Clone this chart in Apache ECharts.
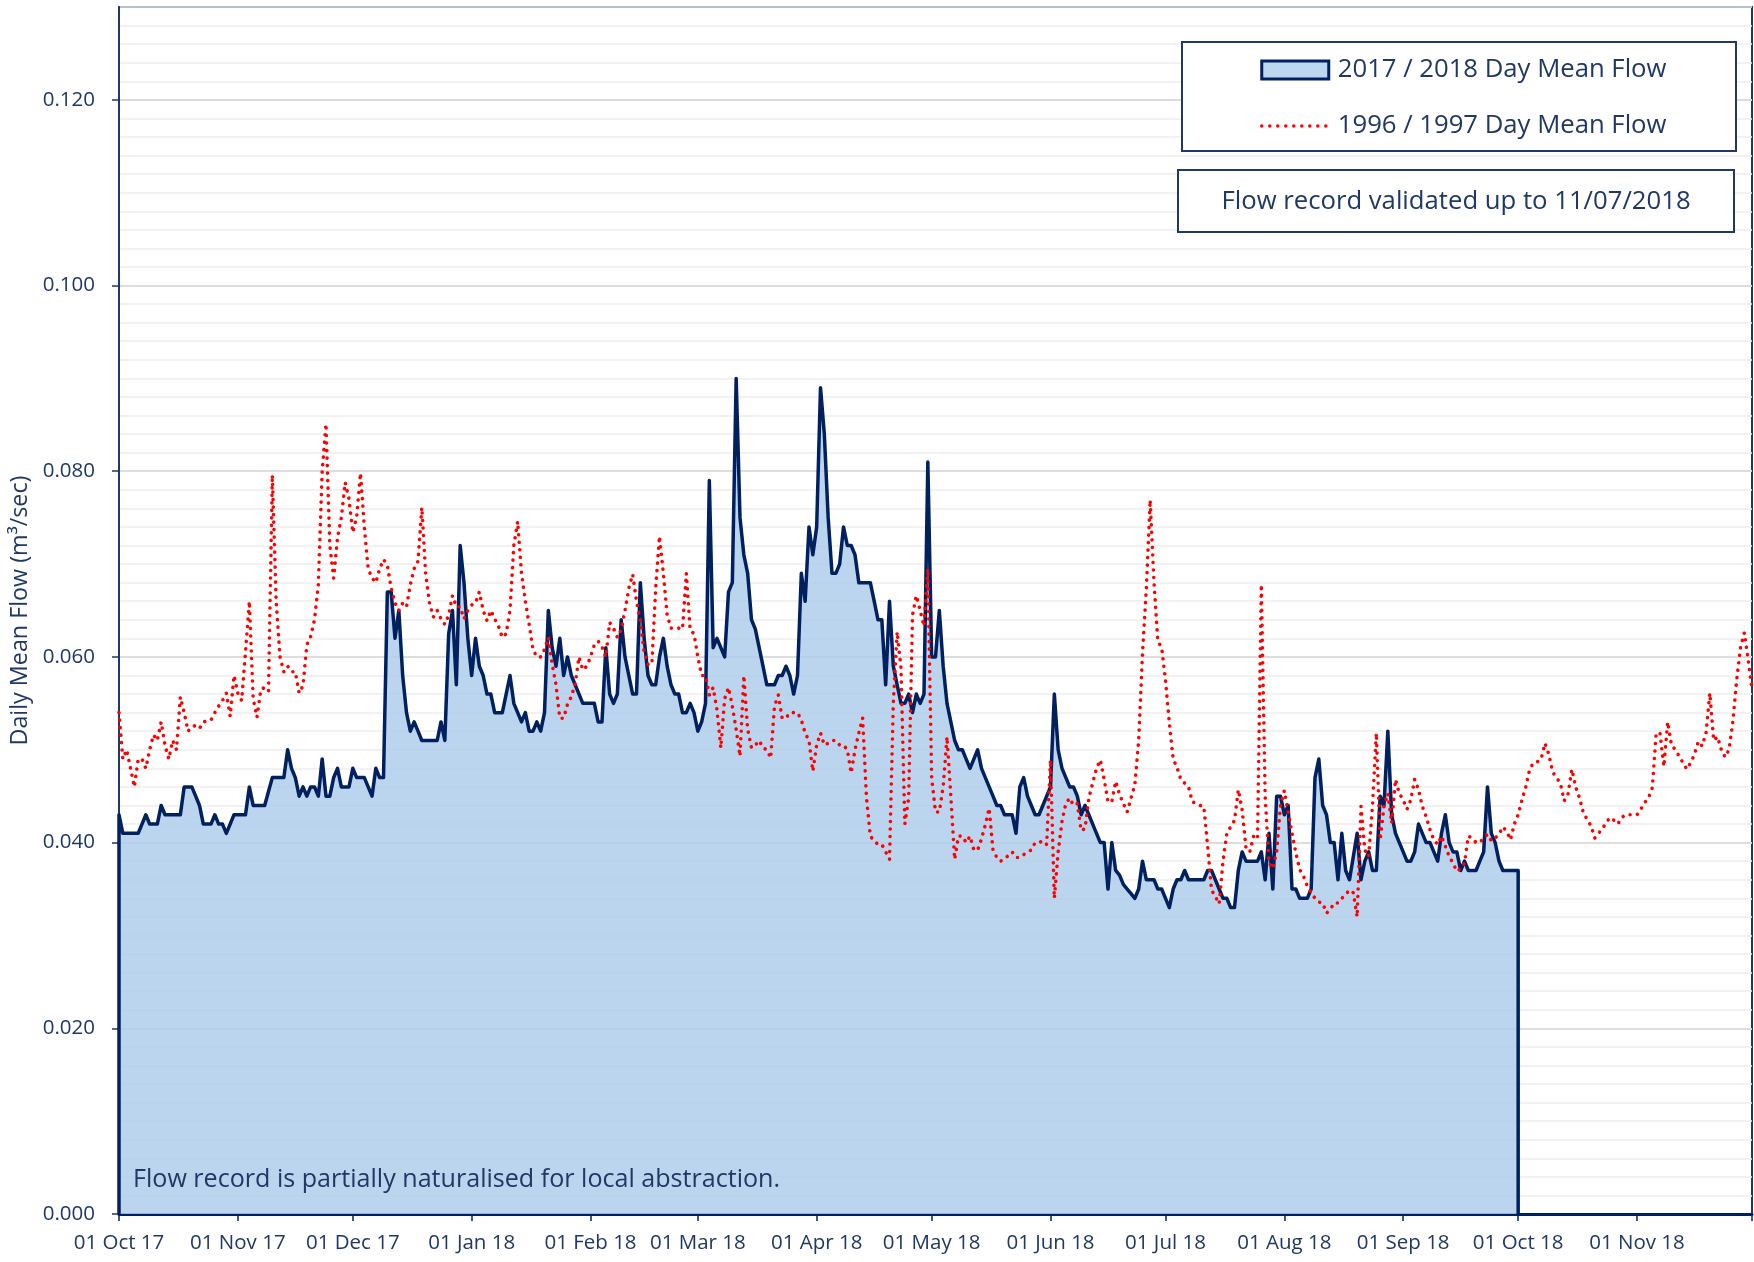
<!DOCTYPE html>
<html>
<head>
<meta charset="utf-8">
<script src="https://cdn.jsdelivr.net/npm/echarts@6/dist/echarts.min.js"></script>
<style>
html,body{margin:0;padding:0;background:#ffffff;}
#chart{width:1754px;height:1262px;}
</style>
</head>
<body>
<div id="chart"></div>
<script>
// ---------------- DATA ----------------
// Daily mean flow (m3/sec), one value per day starting 01 Oct 2017
const flow2017_18 = [
0.043,0.041,0.041,0.041,0.041,0.041,0.042,0.043,0.042,0.042,
0.042,0.044,0.043,0.043,0.043,0.043,0.043,0.046,0.046,0.046,
0.045,0.044,0.042,0.042,0.042,0.043,0.042,0.042,0.041,0.042,
0.043,0.043,0.043,0.043,0.046,0.044,0.044,0.044,0.044,0.0455,
0.047,0.047,0.047,0.047,0.050,0.048,0.047,0.045,0.046,0.045,
0.046,0.046,0.045,0.049,0.045,0.045,0.047,0.048,0.046,0.046,
0.046,0.048,0.047,0.047,0.047,0.046,0.045,0.048,0.047,0.047,
0.067,0.067,0.062,0.065,0.058,0.054,0.052,0.053,0.052,0.051,
0.051,0.051,0.051,0.051,0.053,0.051,0.0625,0.065,0.057,0.072,
0.068,0.062,0.058,0.062,0.059,0.058,0.056,0.056,0.054,0.054,
0.054,0.056,0.058,0.055,0.054,0.053,0.054,0.052,0.052,0.053,
0.052,0.054,0.065,0.061,0.059,0.062,0.058,0.060,0.058,0.057,
0.056,0.055,0.055,0.055,0.055,0.053,0.053,0.061,0.056,0.055,
0.056,0.064,0.060,0.058,0.056,0.056,0.068,0.062,0.058,0.057,
0.057,0.060,0.062,0.059,0.057,0.056,0.056,0.054,0.054,0.055,
0.054,0.052,0.053,0.055,0.079,0.061,0.062,0.061,0.060,0.067,
0.068,0.090,0.075,0.071,0.069,0.064,0.063,0.061,0.059,0.057,
0.057,0.057,0.058,0.058,0.059,0.058,0.056,0.058,0.069,0.066,
0.074,0.071,0.074,0.089,0.084,0.075,0.069,0.069,0.070,0.074,
0.072,0.072,0.071,0.068,0.068,0.068,0.068,0.066,0.064,0.064,
0.057,0.066,0.059,0.057,0.055,0.055,0.056,0.054,0.056,0.055,
0.056,0.081,0.060,0.060,0.065,0.059,0.055,0.053,0.051,0.050,
0.050,0.049,0.048,0.049,0.050,0.048,0.047,0.046,0.045,0.044,
0.044,0.043,0.043,0.043,0.041,0.046,0.047,0.045,0.044,0.043,
0.043,0.044,0.045,0.046,0.056,0.050,0.048,0.047,0.046,0.046,
0.045,0.043,0.044,0.043,0.042,0.041,0.040,0.040,0.035,0.040,
0.037,0.0365,0.0355,0.035,0.0345,0.034,0.035,0.038,0.036,0.036,
0.036,0.035,0.035,0.034,0.033,0.035,0.036,0.036,0.037,0.036,
0.036,0.036,0.036,0.036,0.037,0.037,0.036,0.035,0.034,0.034,
0.033,0.033,0.037,0.039,0.038,0.038,0.038,0.038,0.039,0.036,
0.041,0.035,0.045,0.045,0.043,0.044,0.035,0.035,0.034,0.034,
0.034,0.035,0.047,0.049,0.044,0.043,0.040,0.040,0.036,0.041,
0.037,0.036,0.0385,0.041,0.036,0.038,0.039,0.037,0.037,0.045,
0.044,0.052,0.043,0.041,0.040,0.039,0.038,0.038,0.039,0.042,
0.041,0.040,0.040,0.039,0.038,0.041,0.043,0.040,0.039,0.039,
0.037,0.038,0.037,0.037,0.037,0.038,0.039,0.046,0.041,0.040,
0.038,0.037,0.037,0.037,0.037,0.037
];

// Comparison year, one value per day starting 01 Oct (1996), plotted on the same calendar
const flow1996_97 = [
0.054,0.049,0.050,0.048,0.046,0.049,0.049,0.048,0.050,0.0516,
0.051,0.053,0.0505,0.049,0.051,0.050,0.0557,0.054,0.052,0.0525,
0.0526,0.0523,0.053,0.0531,0.0532,0.054,0.0547,0.0553,0.0561,0.0536,
0.058,0.0561,0.0553,0.0605,0.066,0.0555,0.0535,0.0565,0.0567,0.0563,
0.0796,0.066,0.060,0.0584,0.059,0.0584,0.0584,0.0561,0.0569,0.0613,
0.0622,0.064,0.0678,0.080,0.0851,0.072,0.0685,0.0728,0.075,0.0788,
0.077,0.0734,0.0751,0.0798,0.074,0.0695,0.0685,0.068,0.0695,0.0705,
0.0699,0.0674,0.0658,0.065,0.0658,0.0654,0.0678,0.0695,0.0703,0.0761,
0.069,0.0658,0.0643,0.065,0.0641,0.0635,0.0645,0.0666,0.0654,0.0654,
0.0641,0.065,0.0656,0.0658,0.067,0.065,0.0639,0.065,0.0641,0.0633,
0.0621,0.0625,0.065,0.072,0.0746,0.069,0.066,0.0635,0.0608,0.060,
0.060,0.0608,0.0621,0.0592,0.057,0.0534,0.0534,0.0549,0.0557,0.0571,
0.060,0.0586,0.059,0.060,0.0613,0.0617,0.0611,0.060,0.0637,0.0631,
0.0621,0.0629,0.065,0.0674,0.0689,0.066,0.0639,0.0605,0.0592,0.0592,
0.0674,0.073,0.069,0.0645,0.0631,0.0631,0.0631,0.063,0.069,0.0629,
0.0625,0.060,0.058,0.058,0.0559,0.0567,0.0543,0.0502,0.0555,0.0567,
0.0547,0.0522,0.0493,0.058,0.0522,0.0502,0.0505,0.051,0.0502,0.050,
0.0491,0.0547,0.0559,0.0534,0.0534,0.054,0.054,0.054,0.0532,0.0518,
0.051,0.0477,0.0505,0.0518,0.0505,0.0507,0.051,0.051,0.0505,0.0505,
0.050,0.0475,0.050,0.0518,0.0534,0.0448,0.0407,0.0402,0.0398,0.0398,
0.039,0.0382,0.0551,0.0627,0.0588,0.042,0.0448,0.0645,0.0666,0.065,
0.0633,0.0695,0.047,0.0433,0.0433,0.046,0.0514,0.045,0.0382,0.0407,
0.0407,0.040,0.0407,0.0392,0.0392,0.0404,0.0419,0.0437,0.0392,0.0384,
0.038,0.0383,0.0386,0.039,0.0384,0.0384,0.0387,0.039,0.0392,0.040,
0.040,0.0402,0.0398,0.0489,0.034,0.039,0.0423,0.0442,0.0448,0.044,
0.0442,0.0413,0.0415,0.0448,0.0464,0.048,0.0489,0.0468,0.0444,0.0444,
0.0466,0.0452,0.0442,0.0433,0.0448,0.0462,0.051,0.0604,0.0674,0.0769,
0.068,0.0617,0.061,0.0575,0.0529,0.049,0.0481,0.0468,0.0464,0.046,
0.0444,0.0442,0.044,0.0439,0.0396,0.0349,0.0342,0.0334,0.038,0.041,
0.0417,0.0424,0.0457,0.0435,0.0394,0.039,0.0407,0.0404,0.0678,0.045,
0.0378,0.0372,0.039,0.044,0.0456,0.0433,0.041,0.0389,0.0371,0.0364,
0.0353,0.0346,0.034,0.0336,0.0335,0.0324,0.0328,0.0335,0.0335,0.034,
0.0344,0.0349,0.0346,0.032,0.0439,0.0392,0.0385,0.044,0.0518,0.0403,
0.0439,0.0453,0.0421,0.0468,0.0453,0.0446,0.0436,0.0446,0.0468,0.0457,
0.0439,0.0428,0.0414,0.0403,0.0398,0.0407,0.0396,0.0385,0.0378,0.0369,
0.0372,0.0378,0.0407,0.0405,0.040,0.040,0.0405,0.0409,0.0402,0.0405,
0.0409,0.0417,0.0412,0.0403,0.042,0.043,0.0446,0.046,0.0479,0.0486,
0.0487,0.049,0.0507,0.0495,0.0476,0.047,0.0464,0.0445,0.0452,0.0479,
0.046,0.0448,0.0432,0.0425,0.0418,0.0405,0.041,0.0415,0.0422,0.0427,
0.0424,0.042,0.0427,0.043,0.043,0.043,0.043,0.0436,0.0443,0.0448,
0.0459,0.0518,0.0518,0.0482,0.053,0.0505,0.050,0.0493,0.0486,0.0479,
0.0486,0.0495,0.0509,0.0504,0.0518,0.0561,0.051,0.0514,0.050,0.0492,
0.050,0.053,0.0575,0.061,0.0626,0.0597,0.0565
];

const tickLabels = ['01 Oct 17','01 Nov 17','01 Dec 17','01 Jan 18','01 Feb 18','01 Mar 18','01 Apr 18',
  '01 May 18','01 Jun 18','01 Jul 18','01 Aug 18','01 Sep 18','01 Oct 18','01 Nov 18'];
const yTickValues = [0, 0.02, 0.04, 0.06, 0.08, 0.10, 0.12];
const seriesNames = ['2017 / 2018 Day Mean Flow', '1996 / 1997 Day Mean Flow'];
const yAxisTitle = 'Daily Mean Flow (m³/sec)';
const validatedNote = 'Flow record validated up to 11/07/2018';
const naturalisedNote = 'Flow record is partially naturalised for local abstraction.';

// ---------------- BUILD ----------------
const FONT = "'Open Sans', sans-serif";
const NAVY = '#002060';
const TEXT = '#1F3864';
const DAY = 86400000;
const origin = Date.UTC(2017, 9, 1);
// day index (days since 01 Oct 2017) of the first day of month i after Oct 2017
function monthDay(i) { return Math.round((Date.UTC(2017, 9 + i, 1) - origin) / DAY); }

const labelDays = tickLabels.map((_, i) => monthDay(i));
const axisMaxDay = monthDay(14); // 01 Dec 2018
const tickDays = labelDays.concat([axisMaxDay]);

const areaData = [[0, 0]];
flow2017_18.forEach((v, i) => areaData.push([i, v]));
areaData.push([flow2017_18.length - 1, 0]);
const redData = flow1996_97.map((v, i) => [i, v]);

const chart = echarts.init(document.getElementById('chart'), null, {renderer: 'canvas'});
const option = {
  animation: false,
  backgroundColor: '#ffffff',
  textStyle: {fontFamily: FONT},
  grid: {left: 119, right: 2, top: 7, bottom: 48, show: true, borderColor: '#1F3864', borderWidth: 2, backgroundColor: 'transparent'},
  xAxis: {
    type: 'value', min: 0, max: axisMaxDay,
    axisLine: {show: true, lineStyle: {color: NAVY, width: 3}},
    axisTick: {show: true, inside: false, length: 7, lineStyle: {color: NAVY, width: 1.5}, customValues: tickDays},
    axisLabel: {
      customValues: labelDays, margin: 19, color: TEXT, fontFamily: FONT, fontSize: 20.5,
      formatter: function (val) {
        const i = labelDays.indexOf(Math.round(val));
        return i >= 0 ? tickLabels[i] : '';
      }
    },
    splitLine: {show: false}
  },
  yAxis: [
    {
      type: 'value', min: 0, max: 0.13, interval: 0.002,
      axisLine: {show: true, lineStyle: {color: '#1F3864', width: 2}},
      axisTick: {show: false}, axisLabel: {show: false},
      splitLine: {show: true, lineStyle: {color: '#EEEEEE', width: 1.5}}
    },
    {
      type: 'value', min: 0, max: 0.13, interval: 0.02, position: 'left',
      name: yAxisTitle, nameLocation: 'middle', nameGap: 85, nameRotate: 90,
      nameTextStyle: {color: TEXT, fontFamily: FONT, fontSize: 23.3},
      axisLine: {show: false},
      axisTick: {show: true, inside: false, length: 7, lineStyle: {color: '#1F3864', width: 1.5}, customValues: yTickValues},
      axisLabel: {customValues: yTickValues, margin: 24, color: TEXT, fontFamily: FONT, fontSize: 20.5,
        formatter: function (v) { return v.toFixed(3); }},
      splitLine: {show: true, lineStyle: {color: '#D6D6D6', width: 1.5}}
    }
  ],
  legend: {
    orient: 'vertical', left: 1260, top: 57, padding: 0, itemGap: 30,
    itemWidth: 67, itemHeight: 18, selectedMode: false, z: 6,
    textStyle: {color: TEXT, fontFamily: FONT, fontSize: 25.7, padding: [0, 0, 0, 4]},
    data: [
      {name: seriesNames[0], icon: 'rect', itemStyle: {color: '#BDD7EE', borderColor: NAVY, borderWidth: 3}},
      {name: seriesNames[1], itemStyle: {color: 'rgba(0,0,0,0)', borderWidth: 0, opacity: 0},
       lineStyle: {color: '#FF0000', width: 3.5, type: [0.01, 8], cap: 'round'}}
    ]
  },
  graphic: [
    {type: 'rect', z: 4, shape: {x: 1182, y: 42, width: 554, height: 109},
     style: {fill: '#ffffff', stroke: '#1F3864', lineWidth: 2}},
    {type: 'rect', z: 4, shape: {x: 1178, y: 170, width: 556, height: 62},
     style: {fill: '#ffffff', stroke: '#1F3864', lineWidth: 2}},
    {type: 'text', z: 5, x: 1456, y: 202,
     style: {text: validatedNote, fill: TEXT, font: "25.7px 'Open Sans', sans-serif", textAlign: 'center', textVerticalAlign: 'middle'}},
    {type: 'text', z: 5, x: 133, y: 1180,
     style: {text: naturalisedNote, fill: TEXT, font: "25.1px 'Open Sans', sans-serif", textAlign: 'left', textVerticalAlign: 'middle'}}
  ],
  series: [
    {
      name: seriesNames[0], type: 'line', yAxisIndex: 0, data: areaData,
      symbol: 'none', showSymbol: false, z: 2,
      lineStyle: {color: NAVY, width: 3.5, join: 'round'},
      itemStyle: {color: NAVY},
      areaStyle: {color: '#B0CEEB', opacity: 0.85}
    },
    {
      name: seriesNames[1], type: 'line', yAxisIndex: 0, data: redData,
      symbol: 'none', showSymbol: false, z: 3,
      lineStyle: {color: '#FF0000', width: 3.6, type: [0.01, 7.5], cap: 'round'},
      itemStyle: {color: '#FF0000'}
    }
  ]
};
chart.setOption(option);
</script>
</body>
</html>
